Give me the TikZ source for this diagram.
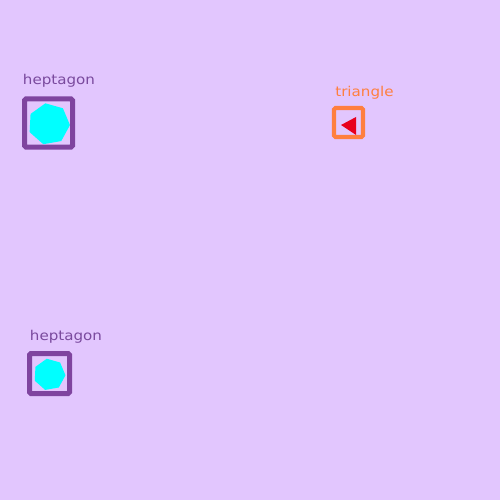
\documentclass[tikz,border=0pt]{standalone}
\usepackage{fontspec}
\setmainfont{DejaVu Sans}[FakeStretch=1.12]
\usetikzlibrary{shapes.geometric}
\definecolor{bg}{HTML}{E2C6FE}
\definecolor{boxpurple}{HTML}{7F449F}
\definecolor{txtpurple}{HTML}{7A4A9E}
\definecolor{boxorange}{HTML}{FF7F3F}
\definecolor{hepcyan}{HTML}{00FFFF}
\definecolor{trired}{HTML}{E8001E}
\tikzset{
  frame/.style={draw=#1, line width=5pt, rounded corners=1.5pt, fill=none, inner sep=0pt},
  label text/.style={text=#1, font=\fontsize{13.5}{15}\selectfont, inner sep=0pt},
  hept/.style={regular polygon, regular polygon sides=7, fill=hepcyan, draw=none, inner sep=0pt, shape border rotate=10},
}
\begin{document}
\begin{tikzpicture}[x=1pt,y=-1pt]
\fill[bg] (0,0) rectangle (500,500);
\useasboundingbox (0,0) rectangle (500,500);
% top-left heptagon
\node[frame=boxpurple, minimum size=48pt] (b1) at (48.5,123) {};
\node[hept, minimum size=42pt] (h1) at (49,124) {};
\node[label text=txtpurple] (t1) at (59,81) {heptagon};
% triangle
\node[frame=boxorange, line width=4.2pt, minimum size=29pt] (b2) at (348.5,122.5) {};
\fill[trired] (341,125) -- (356,117) -- (356,135) -- cycle;
\node[label text=boxorange] (t2) at (364.5,93) {triangle};
% bottom heptagon
\node[frame=boxpurple, minimum size=40pt] (b3) at (49.5,373.5) {};
\node[hept, minimum size=32pt] (h3) at (49.5,374.5) {};
\node[label text=txtpurple] (t3) at (66,337) {heptagon};
\end{tikzpicture}
\end{document}
